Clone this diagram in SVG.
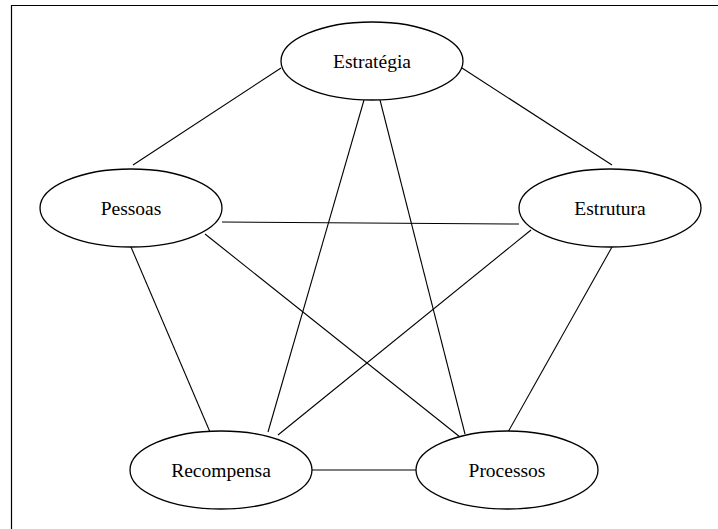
<svg xmlns="http://www.w3.org/2000/svg" width="718" height="529" viewBox="0 0 718 529">
<style>
.n ellipse{fill:#fff;stroke:#000;stroke-width:1.3}
.n text{font-family:"Liberation Serif","Times New Roman",serif;font-size:19.5px;fill:#000;text-anchor:middle;dominant-baseline:central}
#edges line{stroke:#000;stroke-width:1.1}
</style>
<rect x="0" y="0" width="718" height="529" fill="#fff"/>
<path d="M11.5,529 V5.5 H718" fill="none" stroke="#000" stroke-width="1.2"/>
<g id="edges">
<line x1="133" y1="165" x2="281" y2="68"/>
<line x1="462" y1="68" x2="612" y2="165"/>
<line x1="222" y1="222" x2="519" y2="224"/>
<line x1="205" y1="234" x2="460" y2="437"/>
<line x1="131" y1="247" x2="210" y2="432"/>
<line x1="364" y1="100" x2="268" y2="432"/>
<line x1="380" y1="100" x2="465" y2="434"/>
<line x1="531" y1="230" x2="278" y2="435"/>
<line x1="612" y1="247" x2="508" y2="432"/>
<line x1="312" y1="470" x2="416" y2="470"/>
</g>
<g id="estrategia" class="n"><ellipse cx="372" cy="61" rx="91" ry="39"/><text x="372" y="61">Estratégia</text></g>
<g id="pessoas" class="n"><ellipse cx="131" cy="208" rx="91" ry="39"/><text x="131" y="208">Pessoas</text></g>
<g id="estrutura" class="n"><ellipse cx="610" cy="208" rx="91" ry="39"/><text x="610" y="208">Estrutura</text></g>
<g id="recompensa" class="n"><ellipse cx="221" cy="470" rx="91" ry="39"/><text x="221" y="470">Recompensa</text></g>
<g id="processos" class="n"><ellipse cx="507" cy="470" rx="91" ry="39"/><text x="507" y="470">Processos</text></g>
</svg>
